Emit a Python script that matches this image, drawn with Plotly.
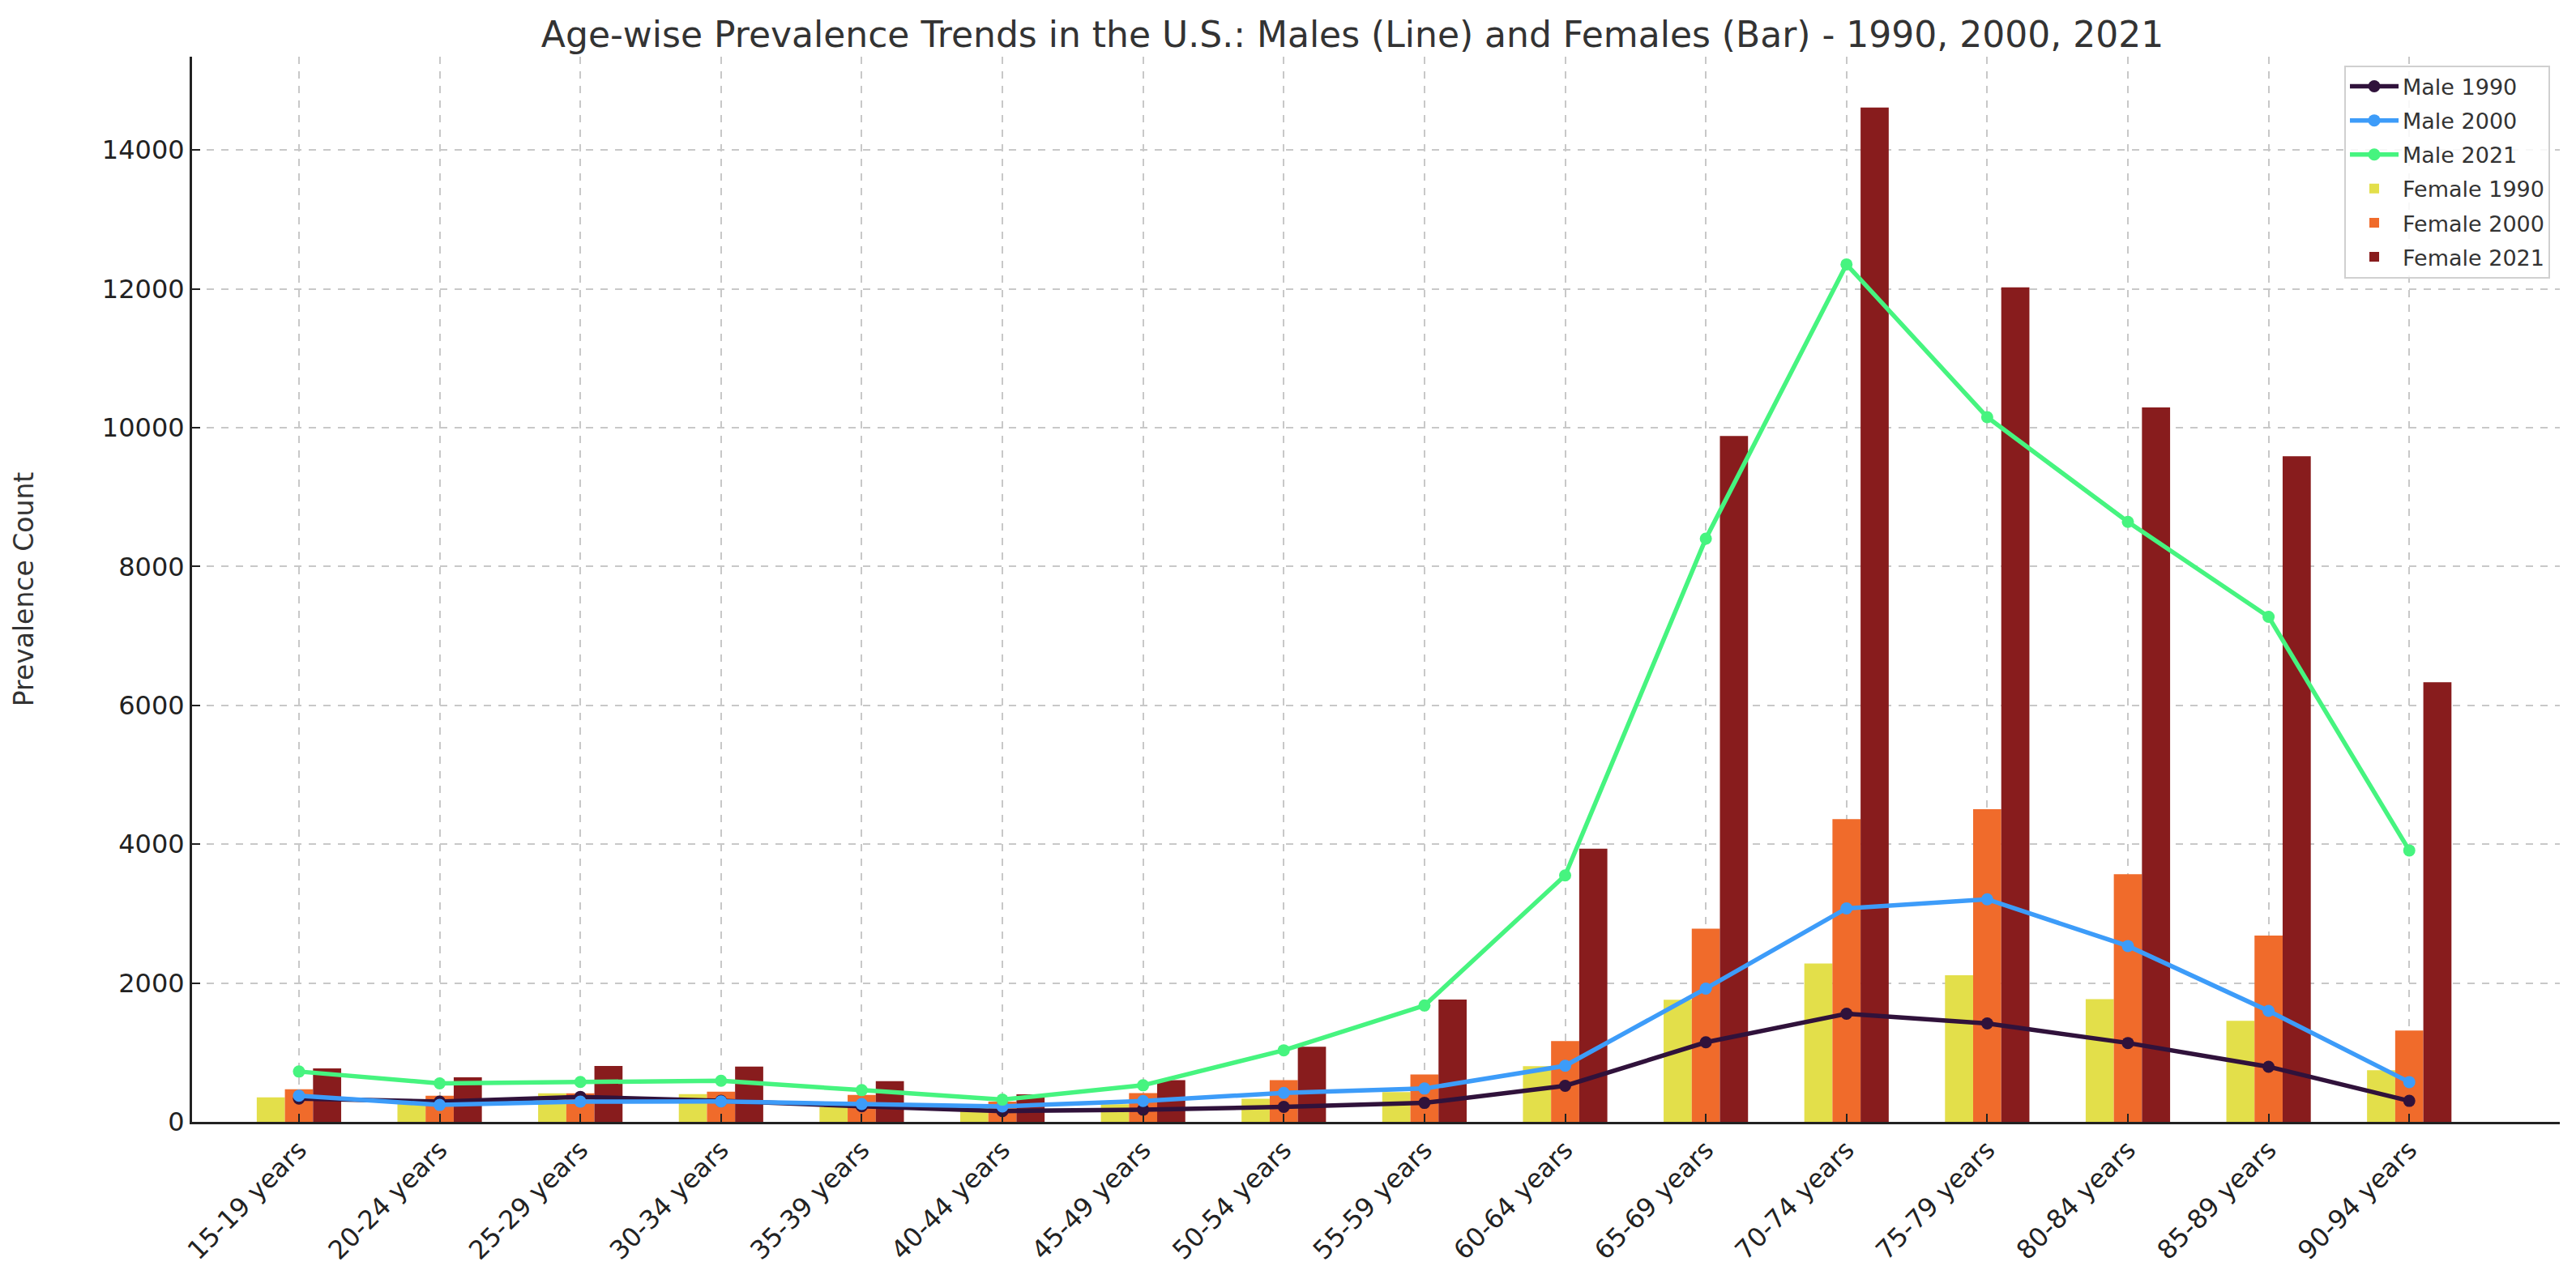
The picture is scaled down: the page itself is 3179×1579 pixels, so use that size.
import plotly.graph_objects as go

age_groups = ["15-19 years", "20-24 years", "25-29 years", "30-34 years", "35-39 years",
              "40-44 years", "45-49 years", "50-54 years", "55-59 years", "60-64 years",
              "65-69 years", "70-74 years", "75-79 years", "80-84 years", "85-89 years",
              "90-94 years"]

male_1990 = [335, 291, 360, 302, 225, 156, 176, 215, 273, 520, 1146, 1558, 1417, 1136, 794, 302]
male_2000 = [376, 244, 291, 295, 256, 223, 301, 418, 480, 808, 1920, 3075, 3206, 2533, 1598, 573]
male_2021 = [725, 554, 574, 593, 457, 320, 527, 1031, 1676, 3550, 8402, 12352, 10151, 8643, 7276, 3910]

female_1990 = [353, 283, 411, 399, 213, 195, 254, 332, 430, 802, 1759, 2281, 2111, 1769, 1457, 744]
female_2000 = [469, 376, 411, 434, 388, 293, 414, 602, 684, 1165, 2784, 4362, 4503, 3568, 2683, 1317]
female_2021 = [771, 643, 806, 795, 585, 398, 602, 1082, 1762, 3935, 9879, 14613, 12020, 10291, 9588, 6332]

title = "Age-wise Prevalence Trends in the U.S.: Males (Line) and Females (Bar) - 1990, 2000, 2021"

fig = go.Figure()

line_specs = [("Male 1990", male_1990, "#30123b"),
              ("Male 2000", male_2000, "#3d9cf9"),
              ("Male 2021", male_2021, "#46f47f")]
for name, vals, col in line_specs:
    fig.add_trace(go.Scatter(x=age_groups, y=vals, name=name, mode="lines+markers",
                             legendgroup=name,
                             line=dict(color=col, width=5.5),
                             marker=dict(color=col, size=15)))

bar_specs = [("Female 1990", female_1990, "#e3df4a"),
             ("Female 2000", female_2000, "#f06b2b"),
             ("Female 2021", female_2021, "#881c1d")]
for name, vals, col in bar_specs:
    fig.add_trace(go.Bar(x=age_groups, y=vals, name=name, legendgroup=name,
                         marker=dict(color=col, line=dict(width=0))))

fig.update_layout(
    width=3179, height=1579,
    font=dict(family="DejaVu Sans", size=32, color="#222222"),
    title=dict(text=title, x=0.5225, xanchor="center", y=0.978, yanchor="middle",
               font=dict(size=44, color="#333333")),
    barmode="group", bargap=0.4, bargroupgap=0,
    plot_bgcolor="white", paper_bgcolor="white",
    margin=dict(l=229, r=28, t=62, b=202),
    legend=dict(x=0.9959, y=0.992, xanchor="right", yanchor="top",
                bgcolor="rgba(255,255,255,0.85)", bordercolor="#d0d0d0", borderwidth=2,
                font=dict(size=27, color="#333333"), tracegroupgap=4, itemwidth=60),
    showlegend=True,
)

fig.update_xaxes(
    type="category", categoryorder="array", categoryarray=age_groups,
    range=[-0.76, 16.07],
    tickangle=-45, tickfont=dict(size=32, color="#222222"),
    showgrid=True, gridcolor="#c8c8c8", gridwidth=2, griddash="dash",
    showline=True, linecolor="#222222", linewidth=3,
    ticks="inside", ticklen=10, tickwidth=2, tickcolor="#222222",
    automargin=False,
)
fig.update_yaxes(
    range=[0, 15344],
    tickvals=[0, 2000, 4000, 6000, 8000, 10000, 12000, 14000],
    ticktext=["0", "2000", "4000", "6000", "8000", "10000", "12000", "14000"],
    tickfont=dict(size=32, color="#222222"),
    title=dict(text="Prevalence Count", font=dict(size=33, color="#333333"), standoff=75),
    showgrid=True, gridcolor="#c8c8c8", gridwidth=2, griddash="dash",
    zeroline=False,
    showline=True, linecolor="#222222", linewidth=3,
    ticks="inside", ticklen=10, tickwidth=2, tickcolor="#222222",
    automargin=False,
)

fig.write_html("out.html")
